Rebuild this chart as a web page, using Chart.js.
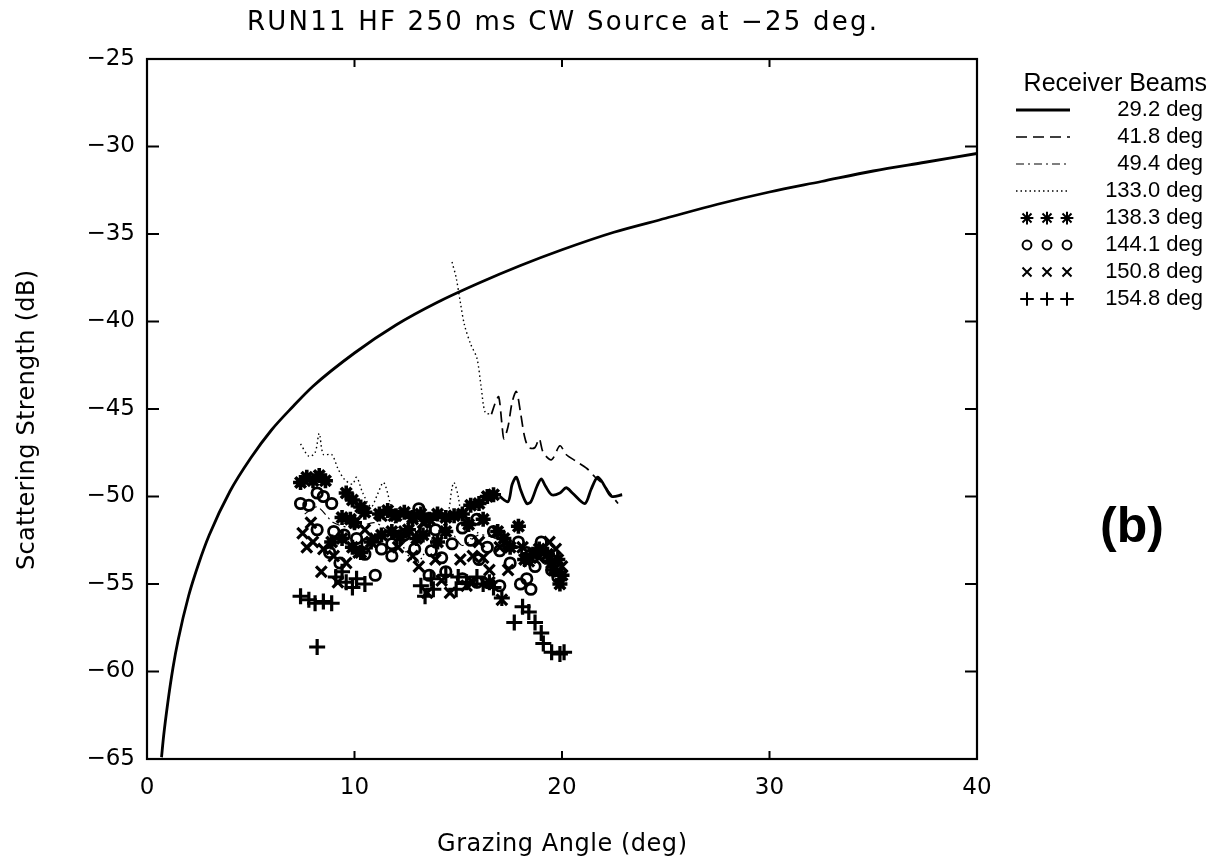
<!DOCTYPE html>
<html>
<head>
<meta charset="utf-8">
<title>RUN11 HF scattering strength</title>
<script src="https://cdn.jsdelivr.net/npm/chart.js@4.4.0/dist/chart.umd.min.js"></script>
<style>
  body { margin: 0; background: #fff; }
  canvas { display: block; }
</style>
</head>
<body>
<canvas id="scatChart" width="1215" height="863"></canvas>
<script>
// axis ticks
const xTicks = [0, 10, 20, 30, 40];
const yTicks = [-65, -60, -55, -50, -45, -40, -35, -30, -25];

// legend text
const legendTitle = 'Receiver Beams';
const beamLabels = ['29.2 deg', '41.8 deg', '49.4 deg', '133.0 deg', '138.3 deg', '144.1 deg', '150.8 deg', '154.8 deg'];

// smooth reference curve  [grazing angle, dB]
const refCurve = [[0.7,-64.9],[0.8,-63.7],[1.0,-61.8],[1.25,-59.8],[1.5,-58.2],[2.0,-55.7],[2.5,-53.8],[3.0,-52.2],
  [4.0,-49.7],[5.0,-47.8],[6.0,-46.2],[7.0,-44.9],[8.0,-43.7],[10.0,-41.8],[12.0,-40.2],[14.0,-38.9],[16.0,-37.8],
  [18.0,-36.8],[20.0,-35.9],[22.5,-34.9],[25.0,-34.1],[27.5,-33.3],[30.0,-32.6],[32.5,-32.0],[35.0,-31.4],[37.5,-30.9],[40.0,-30.4]];

// line beams
const beam292 = [[17.0,-50.0],[17.4,-50.3],[17.6,-49.3],[17.8,-48.9],[18.0,-49.6],[18.3,-50.4],[18.5,-50.3],[18.8,-49.4],
  [19.0,-49.0],[19.2,-49.4],[19.5,-49.9],[19.9,-49.8],[20.2,-49.5],[20.5,-49.8],[21.1,-50.4],[21.4,-49.6],[21.7,-48.9],
  [21.9,-49.1],[22.1,-49.5],[22.4,-50.0],[22.9,-49.9]];
const beam418 = [[16.6,-45.3],[16.8,-44.6],[16.95,-44.3],[17.1,-45.8],[17.2,-46.7],[17.4,-46.0],[17.6,-44.6],[17.8,-44.0],
  [18.0,-45.2],[18.2,-46.6],[18.4,-47.2],[18.7,-47.2],[18.9,-46.7],[19.1,-47.5],[19.5,-47.9],[19.9,-47.1],[20.2,-47.6],
  [20.7,-48.0],[21.2,-48.4],[21.6,-48.9],[21.9,-49.2],[22.3,-49.8],[22.7,-50.4]];
const beam494 = [[7.6,-51.0],[8.2,-50.6],[9.0,-51.5],[10.0,-51.8],[11.0,-51.5],[12.0,-52.3],[13.0,-52.0],[14.0,-52.6],
  [14.6,-52.0],[15.2,-52.8],[16.0,-52.2],[17.0,-52.5],[17.5,-53.0],[18.3,-53.5],[19.0,-53.2],[19.7,-54.0]];
const beam1330 = [[7.4,-47.0],[7.8,-47.7],[8.1,-47.5],[8.3,-46.4],[8.5,-47.6],[8.9,-47.6],[9.2,-48.4],[9.5,-49.0],[9.9,-49.3],
  [10.1,-48.9],[10.4,-49.8],[10.8,-50.6],[11.1,-49.9],[11.4,-49.2],[11.7,-50.3],[12.0,-51.8],[12.5,-53.2],[13.0,-53.8],
  [13.5,-53.0],[14.0,-52.3],[14.5,-51.0],[14.7,-49.5],[14.8,-49.2],[15.0,-50.0],[15.2,-51.5],[15.6,-52.4],[16.0,-52.0]];
const beam1330b = [[14.7,-36.6],[14.9,-37.5],[15.1,-38.9],[15.3,-40.2],[15.6,-41.3],[15.9,-42.1],[16.1,-43.7],[16.3,-45.2],[16.6,-45.3]];

// marker beams
const beam1383 = [[7.4,-49.2],[7.7,-48.9],[8.0,-49.1],[8.3,-48.8],[8.6,-49.1],[9.6,-49.8],[9.9,-50.2],[10.3,-50.6],[10.5,-50.9],
  [9.4,-51.2],[9.8,-51.3],[10.0,-51.5],[8.9,-52.6],[9.4,-52.4],[9.9,-52.9],[10.3,-53.2],[10.8,-52.6],[11.3,-52.2],[11.8,-52.0],
  [11.2,-51.0],[11.6,-50.8],[12.0,-51.1],[12.4,-50.9],[12.8,-51.2],[13.2,-51.0],[13.6,-51.3],[14.0,-51.0],[14.4,-51.2],
  [14.8,-51.1],[15.2,-51.0],[15.6,-50.5],[16.0,-50.4],[16.4,-50.0],[16.7,-49.9],[12.2,-52.3],[12.6,-51.9],[13.0,-52.4],
  [13.3,-52.2],[14.0,-52.6],[14.4,-52.0],[15.5,-51.6],[16.2,-51.3],[16.9,-52.0],[17.2,-52.4],[17.5,-52.9],[17.9,-51.7],
  [18.2,-53.6],[18.6,-53.3],[18.9,-53.0],[19.3,-53.3],[19.5,-53.8],[19.8,-53.6],[19.6,-54.2],[20.0,-54.5],[19.9,-55.0]];
const beam1441 = [[7.4,-50.4],[7.8,-50.5],[8.2,-49.8],[8.5,-50.0],[8.9,-50.4],[8.2,-51.9],[9.0,-52.0],[9.5,-52.2],[10.1,-52.4],
  [8.8,-53.2],[9.3,-53.8],[11.0,-54.5],[10.5,-53.3],[10.6,-52.7],[11.3,-53.0],[11.8,-52.7],[11.8,-53.4],[12.4,-52.2],
  [12.9,-53.0],[13.1,-50.7],[13.9,-51.9],[14.7,-52.7],[15.2,-51.8],[14.2,-53.5],[14.4,-54.3],[15.2,-54.7],[13.4,-51.9],
  [13.7,-53.1],[15.6,-52.5],[15.9,-51.3],[16.7,-52.0],[16.4,-52.9],[16.0,-53.6],[17.0,-53.1],[17.5,-53.8],[17.9,-52.6],
  [18.3,-53.2],[18.7,-54.0],[19.0,-52.6],[19.2,-53.4],[19.5,-54.2],[19.8,-54.6],[18.0,-55.0],[18.3,-54.7],[18.5,-55.3],
  [13.6,-54.5],[15.9,-54.9],[17.0,-55.1]];
const beam1508 = [[7.5,-52.1],[7.9,-51.5],[7.7,-52.9],[8.0,-52.6],[8.5,-53.0],[8.4,-54.3],[9.0,-53.4],[9.2,-54.9],[9.6,-53.8],
  [10.2,-53.2],[10.5,-51.9],[11.0,-52.4],[11.3,-51.1],[11.9,-51.1],[12.1,-52.9],[12.4,-52.0],[12.8,-51.3],[12.8,-53.4],
  [13.3,-51.5],[14.2,-54.8],[14.6,-55.5],[15.4,-55.1],[15.7,-53.4],[16.2,-53.5],[16.5,-54.2],[17.4,-54.2],[16.0,-52.6],
  [17.0,-52.9],[15.1,-53.6],[13.9,-53.6],[13.1,-54.0],[13.5,-55.5],[16.5,-54.9],[17.1,-55.9],[15.7,-54.9],[18.4,-53.7],
  [18.1,-52.9],[18.9,-53.5],[19.4,-52.6],[19.7,-53.0],[20.0,-54.0]];
const beam1548 = [[7.4,-55.7],[7.8,-55.9],[8.1,-56.1],[8.5,-56.0],[8.9,-56.1],[8.2,-58.6],[9.1,-54.6],[9.4,-54.3],[9.6,-54.9],
  [9.9,-55.2],[10.1,-54.7],[10.5,-55.0],[13.2,-55.1],[13.4,-55.7],[13.7,-54.7],[13.8,-55.3],[14.4,-54.5],[14.9,-55.3],
  [15.0,-54.6],[15.4,-54.9],[15.9,-54.6],[16.2,-55.0],[16.5,-54.9],[16.7,-55.2],[17.1,-55.8],[17.7,-57.2],[18.1,-56.3],
  [18.4,-56.6],[18.7,-57.2],[19.0,-57.8],[19.1,-58.4],[19.5,-58.9],[19.9,-59.0],[20.1,-58.9]];

const pts = arr => arr.map(p => ({x: p[0], y: p[1]}));
const lineSet = (data, dash, width) => ({
  data: pts(data), showLine: true, borderColor: '#000', borderWidth: width, borderDash: dash,
  pointRadius: 0, pointHoverRadius: 0, tension: 0.3, fill: false
});
const markSet = (data, style, r, bw) => ({
  data: pts(data), showLine: false, pointStyle: style, pointRadius: r, pointHoverRadius: r,
  pointBorderWidth: bw, borderColor: '#000', backgroundColor: 'rgba(0,0,0,0)'
});

const legendSets = [
  lineSet(beam292, [], 2.8),
  lineSet(beam418, [11, 6], 1.7),
  lineSet(beam494, [8, 4, 2, 4], 1.2),
  lineSet(beam1330, [1.5, 3], 1.4),
  markSet(beam1383, 'star', 7.5, 3.6),
  markSet(beam1441, 'circle', 5.2, 2.8),
  markSet(beam1508, 'crossRot', 7.5, 3.2),
  markSet(beam1548, 'cross', 8, 3.2)
];
const curveSet = lineSet(refCurve, [], 2.8);
curveSet.cubicInterpolationMode = 'monotone';
const upperDots = lineSet(beam1330b, [1.5, 3], 1.4);

const FONT = '"DejaVu Sans", sans-serif';

// centred text stretched to a given width with letter spacing
function spreadText(ctx, text, cx, cy, width) {
  ctx.letterSpacing = '0px';
  const w = ctx.measureText(text).width;
  const gap = Math.max(0, (width - w) / (text.length - 1));
  ctx.letterSpacing = gap + 'px';
  ctx.fillText(text, cx + gap / 2, cy);
  ctx.letterSpacing = '0px';
}

const decor = {
  id: 'decor',
  afterDraw(chart) {
    const {ctx, chartArea: a, scales} = chart;
    ctx.save();
    ctx.strokeStyle = '#000';
    ctx.fillStyle = '#000';
    ctx.lineWidth = 2.2;
    ctx.strokeRect(a.left, a.top, a.right - a.left, a.bottom - a.top);

    // inward tick marks
    ctx.lineWidth = 2;
    ctx.beginPath();
    xTicks.slice(1, -1).forEach(v => {
      const px = scales.x.getPixelForValue(v);
      ctx.moveTo(px, a.bottom); ctx.lineTo(px, a.bottom - 8);
      ctx.moveTo(px, a.top); ctx.lineTo(px, a.top + 8);
    });
    yTicks.slice(1, -1).forEach(v => {
      const py = scales.y.getPixelForValue(v);
      ctx.moveTo(a.left, py); ctx.lineTo(a.left + 12, py);
      ctx.moveTo(a.right, py); ctx.lineTo(a.right - 12, py);
    });
    ctx.stroke();

    // titles
    ctx.textAlign = 'center';
    ctx.textBaseline = 'middle';
    ctx.font = '26px ' + FONT;
    spreadText(ctx, 'RUN11 HF 250 ms CW Source at \u221225 deg.', (a.left + a.right) / 2, 23, 630);
    ctx.font = '24px ' + FONT;
    spreadText(ctx, 'Grazing Angle (deg)', (a.left + a.right) / 2, 845, 250);
    ctx.save();
    ctx.translate(28, 420);
    ctx.rotate(-Math.PI / 2);
    spreadText(ctx, 'Scattering Strength (dB)', 0, 0, 300);
    ctx.restore();

    // legend
    ctx.textAlign = 'right';
    ctx.font = '25px "Liberation Sans", Arial, sans-serif';
    ctx.fillText(legendTitle, 1207, 84);
    ctx.font = '22px "Liberation Sans", Arial, sans-serif';
    beamLabels.forEach((lab, i) => {
      const y = 110 + i * 27;
      const ds = legendSets[i];
      ctx.fillStyle = '#000';
      ctx.fillText(lab, 1203, y);
      if (ds.showLine) {
        ctx.save();
        ctx.lineWidth = ds.borderWidth;
        ctx.setLineDash(ds.borderDash);
        ctx.beginPath();
        ctx.moveTo(1016, y); ctx.lineTo(1070, y);
        ctx.stroke();
        ctx.restore();
      } else {
        ctx.save();
        ctx.fillStyle = ds.backgroundColor;
        ctx.strokeStyle = '#000';
        [1027, 1047, 1067].forEach(x => {
          Chart.helpers.drawPoint(ctx, {pointStyle: ds.pointStyle, radius: ds.pointRadius * 0.85,
            borderWidth: ds.pointBorderWidth * 0.9, rotation: 0}, x, y);
        });
        ctx.restore();
      }
    });

    ctx.fillStyle = '#000';
    ctx.textAlign = 'center';
    ctx.font = 'bold 50px "Liberation Sans", Arial, sans-serif';
    ctx.fillText('(b)', 1132, 528);
    ctx.restore();
  }
};

new Chart(document.getElementById('scatChart').getContext('2d'), {
  type: 'scatter',
  data: { datasets: [curveSet, ...legendSets, upperDots] },
  options: {
    responsive: false,
    animation: false,
    layout: { padding: { top: 59, right: 238, left: 0, bottom: 0 } },
    plugins: { legend: { display: false }, title: { display: false }, tooltip: { enabled: false } },
    scales: {
      x: {
        type: 'linear', min: 0, max: 40,
        afterBuildTicks: s => { s.ticks = xTicks.map(v => ({value: v})); },
        afterFit: s => { s.height = 863 - 759; },
        grid: { display: false, drawTicks: false },
        border: { display: false },
        ticks: { color: '#000', padding: 15, maxRotation: 0, font: { family: FONT, size: 23 } }
      },
      y: {
        type: 'linear', min: -65, max: -25,
        afterBuildTicks: s => { s.ticks = yTicks.map(v => ({value: v})); },
        afterFit: s => { s.width = 147; },
        grid: { display: false, drawTicks: false },
        border: { display: false },
        ticks: {
          color: '#000', padding: 12, font: { family: FONT, size: 23 },
          callback: v => (v < 0 ? '\u2212' + Math.abs(v) : String(v))
        }
      }
    }
  },
  plugins: [decor]
});
</script>
</body>
</html>
